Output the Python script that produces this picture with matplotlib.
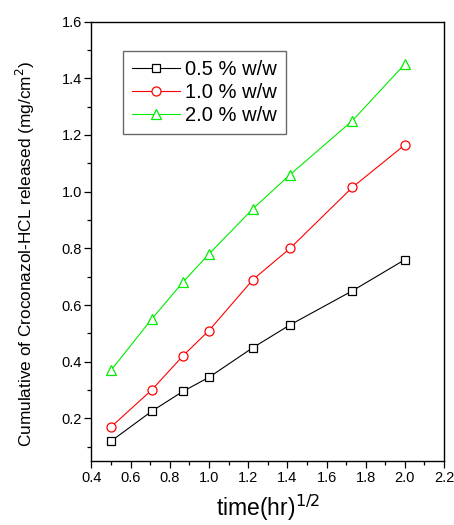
import numpy as np
import matplotlib.pyplot as plt
from matplotlib.ticker import MultipleLocator, FormatStrFormatter

plt.rcParams['font.family'] = ['Liberation Sans', 'DejaVu Sans']

# dữ liệu
time_sqrt = [0.5, 0.707, 0.866, 1.0, 1.225, 1.414, 1.732, 2.0]
conc_05 = [0.12, 0.225, 0.295, 0.345, 0.45, 0.53, 0.65, 0.76]
conc_10 = [0.17, 0.30, 0.42, 0.51, 0.69, 0.80, 1.015, 1.165]
conc_20 = [0.37, 0.55, 0.68, 0.78, 0.94, 1.06, 1.25, 1.45]
labels = ['0.5 % w/w', '1.0 % w/w', '2.0 % w/w']

fig = plt.figure(figsize=(4.54, 5.25), dpi=100)
ax = fig.add_axes([0.2015, 0.122, 0.7765, 0.837])

ax.plot(time_sqrt, conc_05, color='black', lw=0.8, marker='s', ms=6,
        mfc='white', mec='black', mew=0.9, label=labels[0])
ax.plot(time_sqrt, conc_10, color='#ff0000', lw=0.8, marker='o', ms=6.5,
        mfc='white', mec='#ff0000', mew=0.9, label=labels[1])
ax.plot(time_sqrt, conc_20, color='#00ee00', lw=0.8, marker='^', ms=7,
        mfc='white', mec='#00ee00', mew=0.9, label=labels[2])

ax.set_xlim(0.4, 2.2)
ax.set_ylim(0.05, 1.6)
ax.xaxis.set_major_locator(MultipleLocator(0.2))
ax.xaxis.set_minor_locator(MultipleLocator(0.1))
ax.yaxis.set_major_locator(MultipleLocator(0.2))
ax.yaxis.set_minor_locator(MultipleLocator(0.1))
ax.xaxis.set_major_formatter(FormatStrFormatter('%.1f'))
ax.yaxis.set_major_formatter(FormatStrFormatter('%.1f'))
ax.set_yticks(np.arange(0.2, 1.61, 0.2))
ax.tick_params(which='both', direction='out', top=False, right=False, width=0.9)
ax.tick_params(which='major', length=5, labelsize=10.5, pad=2)
ax.tick_params(which='minor', length=3)
for s in ax.spines.values():
    s.set_linewidth(1.0)

ax.set_xlabel('time(hr)$^{1/2}$', fontsize=16.5)
ax.xaxis.set_label_coords(0.5, -0.072)
ax.set_ylabel('Cumulative of Croconazol-HCL released (mg/cm$^2$)', fontsize=12.4)
ax.yaxis.set_label_coords(-0.154, 0.472)

leg = ax.legend(loc='upper left', bbox_to_anchor=(0.089, 0.933), borderaxespad=0,
                fontsize=14.5, frameon=True, fancybox=False, edgecolor='#444444',
                handlelength=2.4, handletextpad=0.25, borderpad=0.45,
                labelspacing=0.2)
leg.get_frame().set_linewidth(1.0)

fig.savefig('out.png', dpi=100)
